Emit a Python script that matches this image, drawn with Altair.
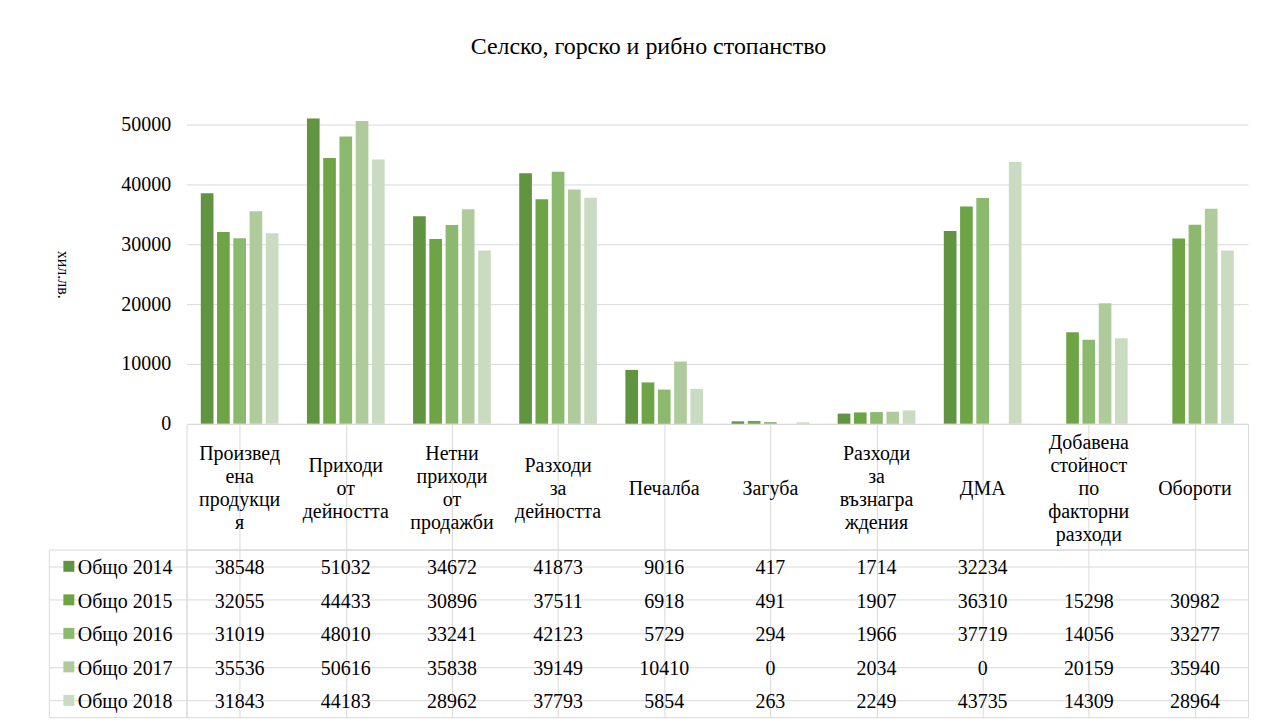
import altair as alt
import pandas as pd

FONT = "Liberation Serif"
GRID = "#d9d9d9"

categories = ["Произведена продукция", "Приходи от дейността", "Нетни приходи от продажби",
              "Разходи за дейността", "Печалба", "Загуба", "Разходи за възнаграждения",
              "ДМА", "Добавена стойност по факторни разходи", "Обороти"]
header_labels = ["Произвед\nена\nпродукци\nя", "Приходи\nот\nдейността", "Нетни\nприходи\nот\nпродажби",
                 "Разходи\nза\nдейността", "Печалба", "Загуба", "Разходи\nза\nвъзнагра\nждения",
                 "ДМА", "Добавена\nстойност\nпо\nфакторни\nразходи", "Обороти"]
series = ["Общо 2014", "Общо 2015", "Общо 2016", "Общо 2017", "Общо 2018"]
values_2014 = [38548, 51032, 34672, 41873, 9016, 417, 1714, 32234, None, None]
values_2015 = [32055, 44433, 30896, 37511, 6918, 491, 1907, 36310, 15298, 30982]
values_2016 = [31019, 48010, 33241, 42123, 5729, 294, 1966, 37719, 14056, 33277]
values_2017 = [35536, 50616, 35838, 39149, 10410, 0, 2034, 0, 20159, 35940]
values_2018 = [31843, 44183, 28962, 37793, 5854, 263, 2249, 43735, 14309, 28964]
colors = ["#619440", "#6ea446", "#8bb96e", "#afcb9c", "#c9dcc1"]
y_ticks = [0, 10000, 20000, 30000, 40000, 50000]

rows = []
for s, vals in zip(series, [values_2014, values_2015, values_2016, values_2017, values_2018]):
    for c, v in zip(categories, vals):
        rows.append({"series": s, "category": c, "value": v,
                     "label": "" if v is None else str(v)})
df = pd.DataFrame(rows)
bars_df = df[df["value"].notna()].copy()

xscale = alt.Scale(domain=categories, paddingInner=0, paddingOuter=0)
color_scale = alt.Scale(domain=series, range=colors)
series_scale = alt.Scale(domain=series, paddingInner=0, paddingOuter=0)
border = alt.ViewBackground(stroke=GRID, strokeWidth=1)
grid_axis = dict(grid=True, bandPosition=0, gridColor=GRID, gridWidth=1, labels=False,
                 ticks=False, domain=False, title=None)

bars = alt.Chart(bars_df).mark_bar().encode(
    x=alt.X("category:N", scale=xscale, sort=categories, axis=None),
    xOffset=alt.XOffset("series:N", scale=alt.Scale(domain=series, paddingInner=0.22, paddingOuter=0.875)),
    y=alt.Y("value:Q", scale=alt.Scale(domain=[0, 55000], nice=False),
            axis=alt.Axis(values=y_ticks, format="d", grid=True, gridColor=GRID, ticks=False, domain=False,
                          labelFont=FONT, labelFontSize=20, labelColor="black", labelPadding=16,
                          title="хил.лв.", titleAngle=90, titleFont=FONT, titleFontSize=16,
                          titleFontWeight="normal", titleColor="black", titlePadding=66,
                          titleY=180)),
    color=alt.Color("series:N", scale=color_scale, legend=None),
).properties(width=1064, height=330)

spacer1 = alt.Chart(pd.DataFrame({"a": [0]})).mark_point(opacity=0).properties(width=138, height=330)
spacer2 = alt.Chart(pd.DataFrame({"a": [0]})).mark_point(opacity=0).properties(width=138, height=126)

header_df = pd.DataFrame({"category": categories, "label": header_labels,
                          "nlines": [len(l.split("\n")) for l in header_labels]})
header = alt.Chart(header_df).mark_text(
    font=FONT, fontSize=20, lineBreak="\n", lineHeight=23, color="black",
    dy=alt.ExprRef("-(datum.nlines - 1) * 11.5 + 2"),
).encode(
    x=alt.X("category:N", scale=xscale, sort=categories, axis=alt.Axis(**grid_axis)),
    text="label:N",
).properties(width=1064, height=126, view=border)

table = alt.Chart(df).mark_text(font=FONT, fontSize=20, color="black", dy=2).encode(
    x=alt.X("category:N", scale=xscale, sort=categories, axis=alt.Axis(**grid_axis)),
    y=alt.Y("series:N", scale=series_scale, axis=alt.Axis(**grid_axis)),
    text="label:N",
).properties(width=1064, height=168, view=border)

legend_df = pd.DataFrame({"series": series})
leg_base = alt.Chart(legend_df).encode(
    y=alt.Y("series:N", scale=series_scale, axis=alt.Axis(**grid_axis))
)
squares = leg_base.mark_square(size=121, opacity=1).encode(
    x=alt.value(20),
    color=alt.Color("series:N", scale=color_scale, legend=None),
)
names = leg_base.mark_text(align="left", font=FONT, fontSize=20, color="black", dy=2).encode(
    x=alt.value(29),
    text="series:N",
)
legend_panel = alt.layer(squares, names).properties(width=138, height=168, view=border)

chart = alt.concat(spacer1, bars, spacer2, header, legend_panel, table,
                   columns=2, spacing=0, bounds="flush").properties(
    title=alt.TitleParams("Селско, горско и рибно стопанство", font=FONT, fontSize=24,
                          fontWeight="normal", color="black", anchor="middle", offset=36),
    padding={"left": 40, "top": 26, "right": 10, "bottom": 4},
).configure_view(strokeWidth=0)

chart.save("out.html", embed_options={"renderer": "svg", "actions": False})
